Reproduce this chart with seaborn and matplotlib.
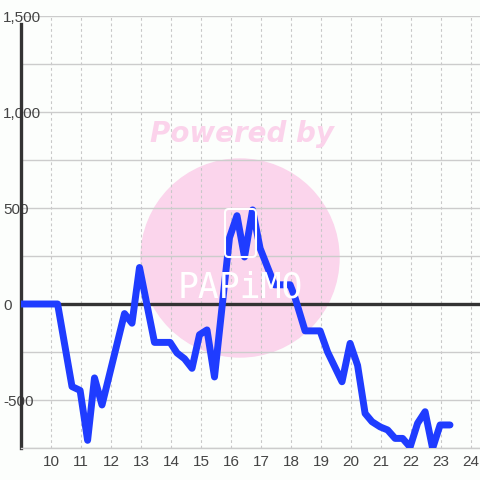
import matplotlib
matplotlib.use("Agg")
import matplotlib.pyplot as plt
import seaborn as sns
from matplotlib.patches import Circle, FancyBboxPatch

# hour of day vs value
hours = [9.0, 10.22, 10.7, 10.97, 11.22, 11.45, 11.7, 12.45, 12.7, 12.95,
         13.45, 13.97, 14.2, 14.45, 14.7, 14.95, 15.2, 15.45, 15.95, 16.2,
         16.45, 16.72, 16.97, 17.45, 17.97, 18.12, 18.47, 18.97, 19.22, 19.7,
         19.97, 20.22, 20.47, 20.7, 20.97, 21.22, 21.47, 21.72, 21.97, 22.22,
         22.47, 22.72, 22.97, 23.3]
values = [0, 0, -430, -450, -710, -385, -526, -50, -100, 190,
          -200, -200, -255, -285, -335, -160, -135, -380, 345, 460,
          245, 490, 290, 100, 100, 40, -140, -140, -250, -405,
          -205, -320, -570, -613, -640, -656, -700, -700, -745, -621,
          -561, -752, -630, -630]

x_ticks = list(range(10, 25))
y_grid = list(range(-750, 1501, 250))
y_labels = [f"{v:,}" if v % 500 == 0 and v > -750 else "" for v in y_grid]

sns.set_style("white")
plt.rcParams['font.family'] = ['Liberation Sans', 'DejaVu Sans']

fig = plt.figure(figsize=(4.8, 4.8), dpi=100, facecolor="#fcfefc")
ax = fig.add_axes([21/480, 32/480, 459/480, 432/480])

# watermark
fig.patches.append(Circle((0.5, 1 - 258/480), 99/480, transform=fig.transFigure,
                          color="#fbd5ec", zorder=0))
ax.set_zorder(1)
ax.patch.set_alpha(0)
fig.text(242/480, 1 - 134/480, "Powered by", color="#fbd3eb", fontsize=20,
         fontweight="bold", style="italic", family="DejaVu Sans",
         ha="center", va="center", zorder=1)
fig.patches.append(FancyBboxPatch((225/480, 1 - 257/480), 31/480, 48/480,
                                  boxstyle="round,pad=0,rounding_size=0.008",
                                  transform=fig.transFigure, fill=False,
                                  edgecolor="white", linewidth=1.5, zorder=1))
fig.text(240/480, 1 - 287/480, "PAPiMO", color="white", fontsize=25,
         family="DejaVu Sans Mono", ha="center", va="center", zorder=1)

ax.set_xlim(9, 24.3)
ax.set_ylim(-750, 1500)
ax.set_xticks(x_ticks)
ax.set_yticks(y_grid)
ax.set_yticklabels(y_labels)
ax.grid(axis="y", color="#cccccc", linewidth=1)
ax.grid(axis="x", color="#c8c8c8", linewidth=0.8, linestyle=(0, (2.5, 2.5)))
ax.set_axisbelow(True)

ax.axhline(0, color="#333333", linewidth=2.4, zorder=2)

sns.lineplot(x=hours, y=values, ax=ax, color="#1f3cff", linewidth=5,
             sort=False, zorder=3)

for s in ["top", "right"]:
    ax.spines[s].set_visible(False)
ax.spines["bottom"].set_color("#cccccc")
ax.spines["bottom"].set_linewidth(1)
ax.spines["left"].set_color("#333333")
ax.spines["left"].set_linewidth(2.4)
ax.spines["left"].set_bounds(-750, 1460)

ax.tick_params(axis="y", length=0, pad=13, labelsize=11, labelcolor="#444444")
for lbl in ax.get_yticklabels():
    lbl.set_horizontalalignment("left")
ax.tick_params(axis="x", length=0, pad=5, labelsize=11, labelcolor="#444444")
ax.set_xlabel("")
ax.set_ylabel("")

fig.savefig("out.png", dpi=100, facecolor=fig.get_facecolor())
